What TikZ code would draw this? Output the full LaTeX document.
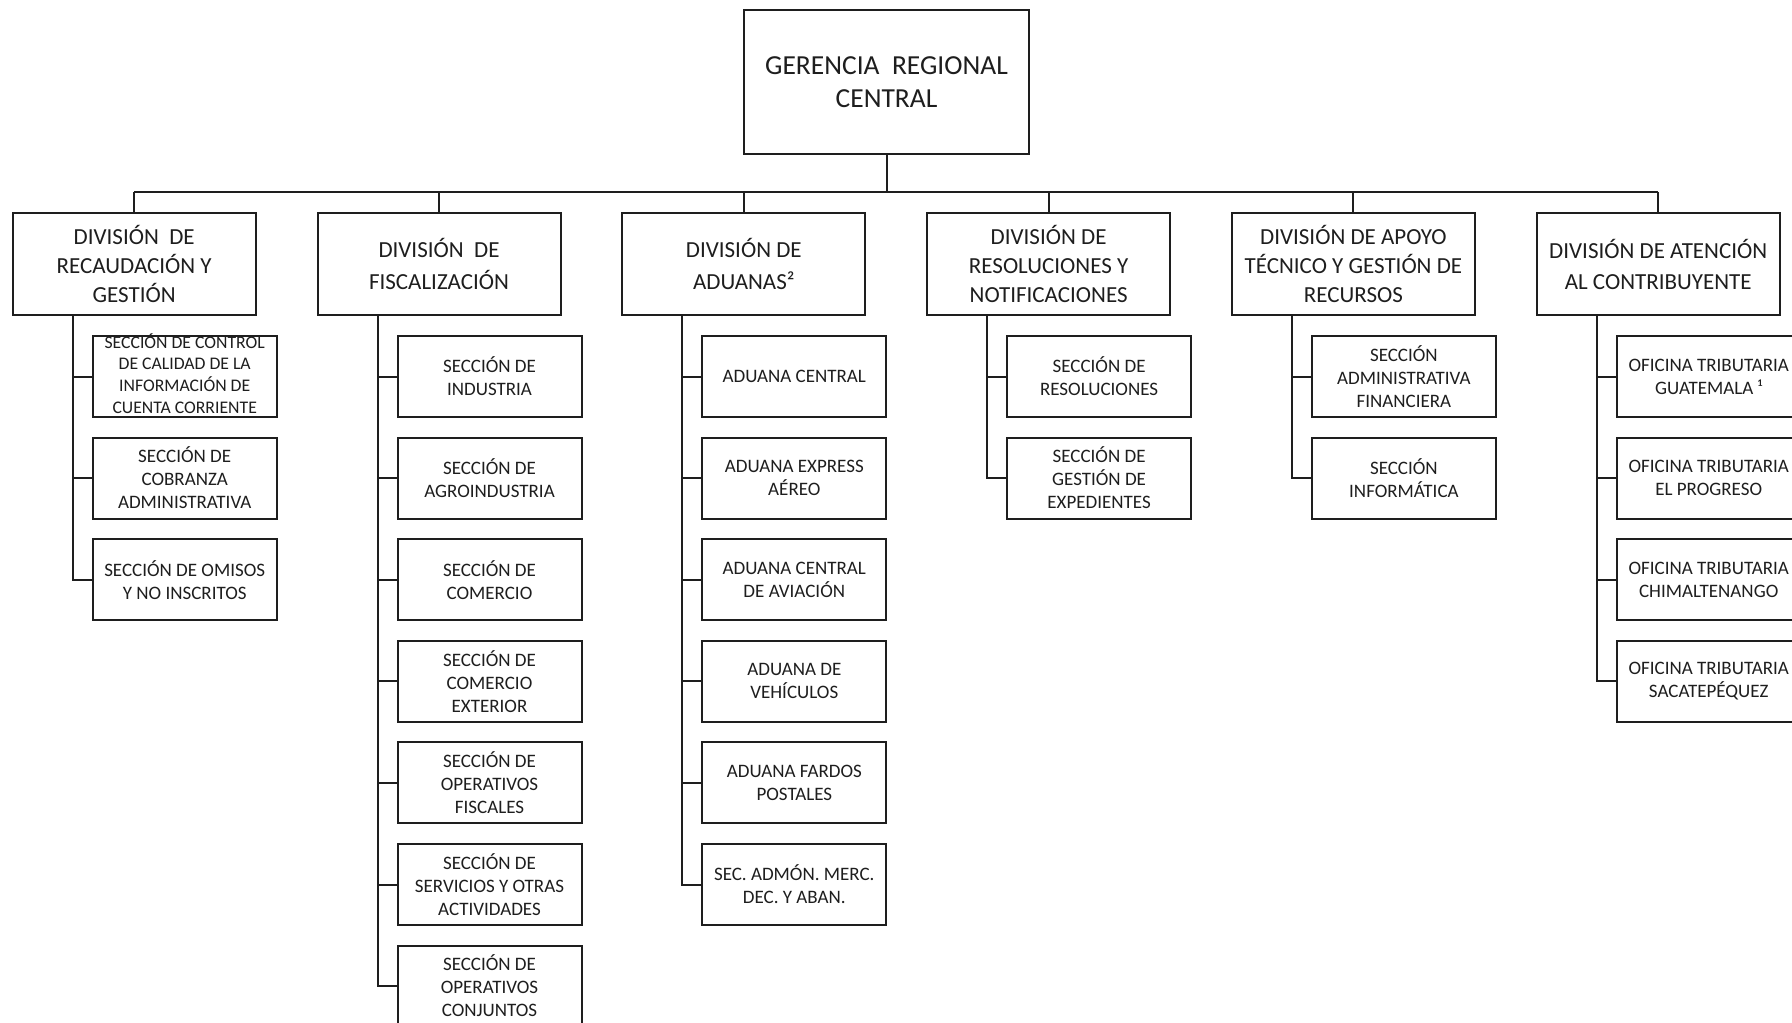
\documentclass[tikz,border=0pt]{standalone}
\usepackage{fontspec}
\setmainfont{Carlito}
\definecolor{ink}{HTML}{1E1E1E}
\tikzset{
  conn/.style={line width=2pt, draw=ink},
  topbox/.style={draw=ink, line width=2pt, minimum width=285pt, minimum height=144pt, inner sep=0pt,
    align=center, text=ink, font=\fontsize{27.5pt}{33pt}\selectfont},
  divbox/.style={draw=ink, line width=2pt, minimum width=243pt, minimum height=102pt, inner sep=0pt,
    align=center, text=ink, font=\fontsize{23pt}{29pt}\selectfont},
  divtwo/.style={divbox, font=\fontsize{23pt}{32pt}\selectfont},
  childbox/.style={draw=ink, line width=2pt, minimum width=184pt, minimum height=81pt, inner sep=0pt,
    align=center, text=ink, font=\fontsize{19pt}{23pt}\selectfont},
  smalltext/.style={inner sep=0pt, align=center, text=ink, font=\fontsize{17.7pt}{21.7pt}\selectfont}
}
\begin{document}
\begin{tikzpicture}[x=1pt, y=-1pt]
\clip (0,0) rectangle (1792,1023);
\fill[white] (0,0) rectangle (1792,1023);

% top
\node[topbox] (top) at (886.5,82) {GERENCIA\ \ REGIONAL\\CENTRAL};

% divisions
\node[divbox] (d1) at (134.2,264) {DIVISIÓN\ \ DE\\RECAUDACIÓN Y\\GESTIÓN};
\node[divtwo] (d2) at (439.0,264) {DIVISIÓN\ \ DE\\FISCALIZACIÓN};
\node[divtwo] (d3) at (743.8,264) {DIVISIÓN DE\\ADUANAS²};
\node[divbox] (d4) at (1048.6,264) {DIVISIÓN DE\\RESOLUCIONES Y\\NOTIFICACIONES};
\node[divbox] (d5) at (1353.4,264) {DIVISIÓN DE APOYO\\TÉCNICO Y GESTIÓN DE\\RECURSOS};
\node[divbox, font=\fontsize{23pt}{31pt}\selectfont] (d6) at (1658.2,264) {DIVISIÓN DE ATENCIÓN\\AL CONTRIBUYENTE};

% children division 1
\node[childbox] (c11) at (184.7,376.5) {};
\node[smalltext] (c11t) at ([yshift=3pt]c11.center) {SECCIÓN DE CONTROL\\DE CALIDAD DE LA\\INFORMACIÓN DE\\CUENTA CORRIENTE};
\node[childbox] (c12) at (184.7,478.1) {SECCIÓN DE\\COBRANZA\\ADMINISTRATIVA};
\node[childbox] (c13) at (184.7,579.7) {SECCIÓN DE OMISOS\\Y NO INSCRITOS};

% children division 2
\node[childbox] (c21) at (489.5,376.5) {SECCIÓN DE\\INDUSTRIA};
\node[childbox] (c22) at (489.5,478.1) {SECCIÓN DE\\AGROINDUSTRIA};
\node[childbox] (c23) at (489.5,579.7) {SECCIÓN DE\\COMERCIO};
\node[childbox] (c24) at (489.5,681.3) {SECCIÓN DE\\COMERCIO\\EXTERIOR};
\node[childbox] (c25) at (489.5,782.9) {SECCIÓN DE\\OPERATIVOS\\FISCALES};
\node[childbox] (c26) at (489.5,884.5) {SECCIÓN DE\\SERVICIOS Y OTRAS\\ACTIVIDADES};
\node[childbox] (c27) at (489.5,986.1) {SECCIÓN DE\\OPERATIVOS\\CONJUNTOS};

% children division 3
\node[childbox] (c31) at (794.3,376.5) {ADUANA CENTRAL};
\node[childbox] (c32) at (794.3,478.1) {ADUANA EXPRESS\\AÉREO};
\node[childbox] (c33) at (794.3,579.7) {ADUANA CENTRAL\\DE AVIACIÓN};
\node[childbox] (c34) at (794.3,681.3) {ADUANA DE\\VEHÍCULOS};
\node[childbox] (c35) at (794.3,782.9) {ADUANA FARDOS\\POSTALES};
\node[childbox] (c36) at (794.3,884.5) {SEC. ADMÓN. MERC.\\DEC. Y ABAN.};

% children division 4
\node[childbox] (c41) at (1099.1,376.5) {SECCIÓN DE\\RESOLUCIONES};
\node[childbox] (c42) at (1099.1,478.1) {SECCIÓN DE\\GESTIÓN DE\\EXPEDIENTES};

% children division 5
\node[childbox] (c51) at (1403.9,376.5) {SECCIÓN\\ADMINISTRATIVA\\FINANCIERA};
\node[childbox] (c52) at (1403.9,478.1) {SECCIÓN\\INFORMÁTICA};

% children division 6
\node[childbox] (c61) at (1708.7,376.5) {OFICINA TRIBUTARIA\\GUATEMALA ¹};
\node[childbox] (c62) at (1708.7,478.1) {OFICINA TRIBUTARIA\\EL PROGRESO};
\node[childbox] (c63) at (1708.7,579.7) {OFICINA TRIBUTARIA\\CHIMALTENANGO};
\node[childbox] (c64) at (1708.7,681.3) {OFICINA TRIBUTARIA\\SACATEPÉQUEZ};

% bus
\coordinate (busL) at (134.2,191.5);
\coordinate (busR) at (1658.2,191.5);
\draw[conn] (top.south) -- (top.south |- busL);
\draw[conn] (busL) -- (busR);
\foreach \d in {d1,d2,d3,d4,d5,d6}{
  \draw[conn] (\d.north) -- (\d.north |- busL);
}

% stems
\foreach \d in {1,...,6}{
  \coordinate (s\d) at ([xshift=-61.5pt]d\d.south);
}
\draw[conn] (s1) |- (c13.west);
\foreach \c in {c11,c12}{ \draw[conn] (\c.west) -- (\c.west -| s1); }
\draw[conn] (s2) |- (c27.west);
\foreach \c in {c21,c22,c23,c24,c25,c26}{ \draw[conn] (\c.west) -- (\c.west -| s2); }
\draw[conn] (s3) |- (c36.west);
\foreach \c in {c31,c32,c33,c34,c35}{ \draw[conn] (\c.west) -- (\c.west -| s3); }
\draw[conn] (s4) |- (c42.west);
\draw[conn] (c41.west) -- (c41.west -| s4);
\draw[conn] (s5) |- (c52.west);
\draw[conn] (c51.west) -- (c51.west -| s5);
\draw[conn] (s6) |- (c64.west);
\foreach \c in {c61,c62,c63}{ \draw[conn] (\c.west) -- (\c.west -| s6); }
\end{tikzpicture}
\end{document}
